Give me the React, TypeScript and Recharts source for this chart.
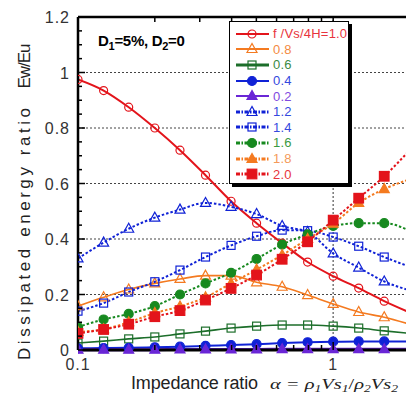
import { ComposedChart, Line, XAxis, YAxis, ReferenceLine, Legend } from "recharts"

// impedance ratio alpha, 10 points per decade
const ALPHA = [0.1, 0.126, 0.158, 0.2, 0.251, 0.316, 0.398, 0.501, 0.631, 0.794, 1, 1.259, 1.585, 1.995]

// Ew/Eu for each normalised frequency f/(Vs/4H)
const F10 = [0.975, 0.935, 0.875, 0.8, 0.72, 0.63, 0.536, 0.457, 0.385, 0.317, 0.266, 0.223, 0.176, 0.135]
const F08 = [0.158, 0.19, 0.218, 0.24, 0.256, 0.268, 0.268, 0.244, 0.228, 0.198, 0.166, 0.137, 0.118, 0.093]
const F06 = [0.025, 0.032, 0.04, 0.047, 0.058, 0.068, 0.079, 0.086, 0.09, 0.09, 0.086, 0.079, 0.069, 0.06]
const F04 = [0.006, 0.007, 0.008, 0.01, 0.012, 0.015, 0.018, 0.021, 0.025, 0.028, 0.03, 0.031, 0.031, 0.03]
const F02 = [0.001, 0.001, 0.001, 0.001, 0.002, 0.002, 0.002, 0.002, 0.003, 0.003, 0.003, 0.003, 0.003, 0.003]
const F12 = [0.33, 0.387, 0.437, 0.477, 0.506, 0.53, 0.516, 0.49, 0.447, 0.425, 0.348, 0.297, 0.247, 0.215]
const F14 = [0.14, 0.169, 0.209, 0.246, 0.288, 0.335, 0.377, 0.41, 0.432, 0.43, 0.407, 0.374, 0.335, 0.3]
const F16 = [0.083, 0.11, 0.13, 0.158, 0.2, 0.24, 0.278, 0.328, 0.38, 0.417, 0.447, 0.457, 0.457, 0.43]
const F18 = [0.065, 0.075, 0.1, 0.133, 0.157, 0.19, 0.24, 0.29, 0.342, 0.4, 0.455, 0.53, 0.58, 0.615]
const F20 = [0.06, 0.074, 0.093, 0.12, 0.142, 0.18, 0.222, 0.27, 0.327, 0.39, 0.468, 0.547, 0.626, 0.72]

const X_TICKS = [0.1, 0.2, 0.3, 0.4, 0.5, 0.6, 0.7, 0.8, 0.9, 1, 2]
const X_LABELS = [0.1, 1]
const Y_TICKS = [
  0, 0.05, 0.1, 0.15, 0.2, 0.25, 0.3, 0.35, 0.4, 0.45, 0.5, 0.55, 0.6,
  0.65, 0.7, 0.75, 0.8, 0.85, 0.9, 0.95, 1, 1.05, 1.1, 1.15, 1.2,
]
const Y_LABELS = [0, 0.2, 0.4, 0.6, 0.8, 1, 1.2]
const GRID_Y = [0.2, 0.4, 0.6, 0.8, 1]
const GRID_X = [1]

// plot frame
const PLOT_LEFT = 78
const PLOT_TOP = 17
const PLOT_BOTTOM = 350
const VIEW_W = 406

const RED = "#e3141b"
const ORANGE = "#f47a20"
const DKGREEN = "#1c6e2a"
const BLUE = "#1022d6"
const PURPLE = "#6a26d6"
const GREEN = "#17891f"

type Mark = "circle" | "triangle" | "square"

type Series = {
  key: string
  name: string
  values: number[]
  color: string
  text: string
  mark: Mark
  filled: boolean
  dashed: boolean
  width: number
}

const SERIES: Series[] = [
  { key: "f10", name: "f /Vs/4H=1.0", values: F10, color: RED, text: "#e8343c", mark: "circle", filled: false, dashed: false, width: 2 },
  { key: "f08", name: "0.8", values: F08, color: ORANGE, text: "#f48a42", mark: "triangle", filled: false, dashed: false, width: 1.6 },
  { key: "f06", name: "0.6", values: F06, color: DKGREEN, text: "#3b8a44", mark: "square", filled: false, dashed: false, width: 1.6 },
  { key: "f04", name: "0.4", values: F04, color: BLUE, text: "#3448de", mark: "circle", filled: true, dashed: false, width: 2 },
  { key: "f02", name: "0.2", values: F02, color: PURPLE, text: "#8048e0", mark: "triangle", filled: true, dashed: false, width: 3 },
  { key: "f12", name: "1.2", values: F12, color: BLUE, text: "#3448de", mark: "triangle", filled: false, dashed: true, width: 2 },
  { key: "f14", name: "1.4", values: F14, color: BLUE, text: "#3448de", mark: "square", filled: false, dashed: true, width: 2 },
  { key: "f16", name: "1.6", values: F16, color: GREEN, text: "#3a9a42", mark: "circle", filled: true, dashed: true, width: 2 },
  { key: "f18", name: "1.8", values: F18, color: ORANGE, text: "#f49a5a", mark: "triangle", filled: true, dashed: true, width: 2 },
  { key: "f20", name: "2.0", values: F20, color: RED, text: "#e8343c", mark: "square", filled: true, dashed: true, width: 2 },
]

const rows = ALPHA.map((x, i) => {
  const row: Record<string, number> = { x }
  SERIES.forEach((s) => {
    row[s.key] = s.values[i]
  })
  return row
})

function Marker({ cx, cy, s }: { cx: number; cy: number; s: Series }) {
  if (s.mark === "circle") {
    return <circle cx={cx} cy={cy} r={s.filled ? 4.5 : 4} fill={s.filled ? s.color : "none"} stroke={s.color} strokeWidth={1.2} />
  }
  if (s.mark === "triangle") {
    return (
      <polygon
        points={`${cx},${cy - 5.5} ${cx - 5},${cy + 3.5} ${cx + 5},${cy + 3.5}`}
        fill={s.filled ? s.color : "none"}
        stroke={s.color}
        strokeWidth={1.2}
      />
    )
  }
  const h = s.filled ? 4.8 : 4
  return <rect x={cx - h} y={cy - h} width={h * 2} height={h * 2} fill={s.filled ? s.color : "none"} stroke={s.color} strokeWidth={1.2} />
}

function dotFor(s: Series) {
  return (props: any) => {
    const { cx, cy, index } = props
    // the last sample sits just past the visible frame; only its line shows
    if (cx == null || cy == null || cx > VIEW_W - 2) return <g key={`${s.key}-${index}`} />
    return (
      <g key={`${s.key}-${index}`}>
        <Marker cx={cx} cy={cy} s={s} />
      </g>
    )
  }
}

const TICK_FONT = { fontFamily: "Liberation Sans, Arial, sans-serif", fontSize: 16, fill: "#333", letterSpacing: 1 }

function XTick(props: any) {
  const { x, payload } = props
  const v = payload.value as number
  const major = X_LABELS.includes(v)
  const len = major ? 8 : 5
  return (
    <g>
      <line x1={x} y1={PLOT_BOTTOM} x2={x} y2={PLOT_BOTTOM - len} stroke="#000" strokeWidth={1.5} />
      <line x1={x} y1={PLOT_TOP} x2={x} y2={PLOT_TOP + len} stroke="#000" strokeWidth={1.5} />
      {major && (
        <text x={x} y={PLOT_BOTTOM + 20} textAnchor="middle" {...TICK_FONT}>
          {String(v)}
        </text>
      )}
    </g>
  )
}

function YTick(props: any) {
  const { y, payload } = props
  const v = payload.value as number
  const major = Y_LABELS.some((l) => Math.abs(l - v) < 1e-6)
  const len = major ? 7 : 4
  return (
    <g>
      <line x1={PLOT_LEFT} y1={y} x2={PLOT_LEFT + len} y2={y} stroke="#000" strokeWidth={1.5} />
      {major && (
        <text x={PLOT_LEFT - 8} y={y} dy={6} textAnchor="end" {...TICK_FONT}>
          {String(Number(v.toFixed(1)))}
        </text>
      )}
    </g>
  )
}

function LegendBox() {
  return (
    <div
      style={{
        width: 120,
        height: 163,
        boxSizing: "border-box",
        background: "#fff",
        border: "1.5px solid #000",
        boxShadow: "3px 3px 0 #000",
        padding: "4px 0 0 5px",
        fontFamily: "Liberation Sans, Arial, sans-serif",
        fontSize: 13,
      }}
    >
      {SERIES.map((s) => (
        <div key={s.key} style={{ display: "flex", alignItems: "center", height: 15.6 }}>
          <svg width={36} height={14} style={{ flex: "none" }}>
            <line
              x1={1}
              y1={7}
              x2={34}
              y2={7}
              stroke={s.color}
              strokeWidth={s.dashed ? 3 : s.key === "f06" ? 3 : 2}
              strokeDasharray={s.dashed ? "4 1.5 1.5 1.5" : undefined}
            />
            <Marker cx={17} cy={7} s={s} />
          </svg>
          <span style={{ color: s.text, marginLeft: 2, letterSpacing: 0.2, lineHeight: "15px", whiteSpace: "nowrap" }}>{s.name}</span>
        </div>
      ))}
    </div>
  )
}

export default function App() {
  return (
    <div style={{ position: "fixed", left: 0, top: 0, width: VIEW_W, height: 398, overflow: "hidden", background: "#fff" }}>
      <ComposedChart width={420} height={398} data={rows} margin={{ top: PLOT_TOP, right: 10, bottom: 0, left: 18 }}>
        <XAxis
          dataKey="x"
          type="number"
          scale="log"
          domain={[0.1, 2]}
          allowDataOverflow
          ticks={X_TICKS}
          interval={0}
          tick={<XTick />}
          tickLine={false}
          height={48}
          axisLine={{ stroke: "#000", strokeWidth: 3 }}
        />
        <YAxis
          type="number"
          domain={[0, 1.2]}
          ticks={Y_TICKS}
          interval={0}
          tick={<YTick />}
          tickLine={false}
          width={60}
          axisLine={{ stroke: "#000", strokeWidth: 2.5 }}
        />
        {GRID_Y.map((v) => (
          <ReferenceLine key={`gy${v}`} y={v} stroke="#444" strokeDasharray="2 2" strokeWidth={1} />
        ))}
        {GRID_X.map((v) => (
          <ReferenceLine key={`gx${v}`} x={v} stroke="#777" strokeDasharray="2 2" strokeWidth={1.5} />
        ))}
        <ReferenceLine y={1.2} stroke="#000" strokeWidth={2.5} />
        {SERIES.map((s) => (
          <Line
            key={s.key}
            dataKey={s.key}
            name={s.name}
            type="monotone"
            stroke={s.color}
            strokeWidth={s.width}
            strokeDasharray={s.dashed ? "2.5 2" : undefined}
            dot={dotFor(s)}
            activeDot={false}
            isAnimationActive={false}
          />
        ))}
        <Legend
          layout="vertical"
          align="center"
          verticalAlign="middle"
          content={<LegendBox />}
          wrapperStyle={{ left: 229, top: 21, width: 124, height: 167 }}
        />
      </ComposedChart>
      <svg width={VIEW_W} height={398} style={{ position: "absolute", left: 0, top: 0, pointerEvents: "none" }}>
        <text
          x={98}
          y={46}
          fontFamily="Liberation Sans, Arial, sans-serif"
          fontWeight="bold"
          fontSize={15}
          letterSpacing={-0.3}
          fill="#000"
        >
          D<tspan fontSize={11} dy={4}>1</tspan>
          <tspan dy={-4}>=5%, D</tspan>
          <tspan fontSize={11} dy={4}>2</tspan>
          <tspan dy={-4}>=0</tspan>
        </text>
        <g fontFamily="Liberation Sans, Arial, sans-serif" fontSize={17} fill="#222">
          <text transform="translate(30,234) rotate(-90)" textAnchor="middle" textLength={252} lengthAdjust="spacing">
            Dissipated energy ratio
          </text>
          <text transform="translate(30,66) rotate(-90)" textAnchor="middle" textLength={45} lengthAdjust="spacing">
            Ew/Eu
          </text>
          <text x={131} y={389} fontSize={18} textLength={127} lengthAdjust="spacing">
            Impedance ratio
          </text>
        </g>
        <text x={270} y={389} fontFamily="Liberation Serif, serif" fontStyle="italic" fontSize={15} fill="#222" textLength={128} lengthAdjust="spacingAndGlyphs">
          α = ρ<tspan fontSize={10} dy={3}>1</tspan>
          <tspan dy={-3}>Vs</tspan>
          <tspan fontSize={10} dy={3}>1</tspan>
          <tspan dy={-3} fontStyle="normal">/</tspan>
          <tspan>ρ</tspan>
          <tspan fontSize={10} dy={3}>2</tspan>
          <tspan dy={-3}>Vs</tspan>
          <tspan fontSize={10} dy={3}>2</tspan>
        </text>
      </svg>
    </div>
  )
}
